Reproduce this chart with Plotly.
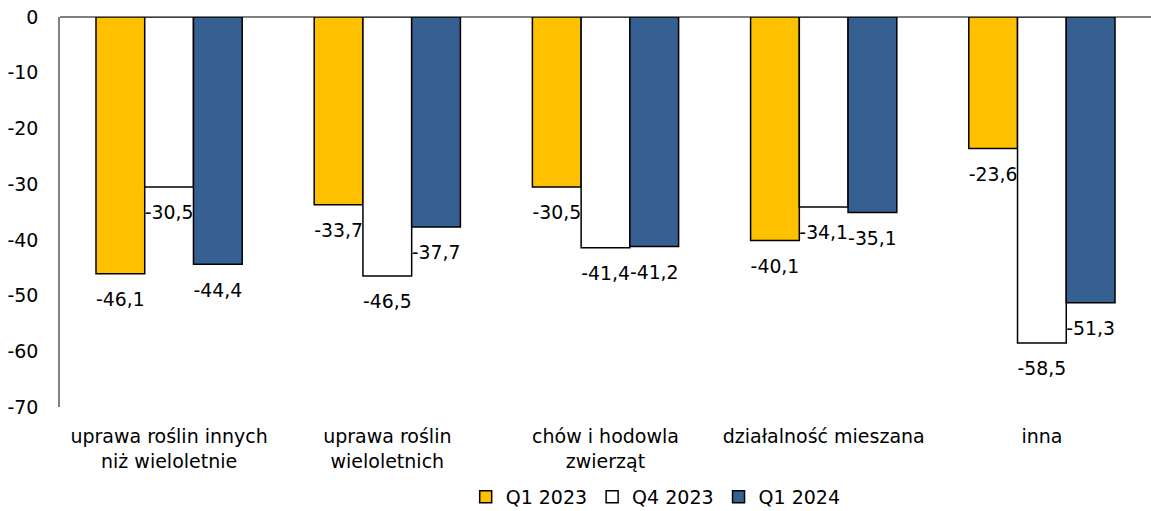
import plotly.graph_objects as go

categories = [
    "uprawa roślin innych<br>niż wieloletnie",
    "uprawa roślin<br>wieloletnich",
    "chów i hodowla<br>zwierząt",
    "działalność mieszana",
    "inna",
]
q1_2023 = [-46.1, -33.7, -30.5, -40.1, -23.6]
q4_2023 = [-30.5, -46.5, -41.4, -34.1, -58.5]
q1_2024 = [-44.4, -37.7, -41.2, -35.1, -51.3]

y_ticks = [0, -10, -20, -30, -40, -50, -60, -70]
y_tick_labels = ["0", "-10", "-20", "-30", "-40", "-50", "-60", "-70"]

series = [
    ("Q1 2023", q1_2023, "#FFC000"),
    ("Q4 2023", q4_2023, "#FFFFFF"),
    ("Q1 2024", q1_2024, "#366092"),
]

FONT = "DejaVu Sans"
SIZE = 19

fig = go.Figure()
for name, values, color in series:
    fig.add_trace(go.Bar(
        x=categories,
        y=values,
        name=name,
        marker=dict(color=color, line=dict(color="#000000", width=1.5)),
        # empty first line pushes the label further below the bar end, like Excel
        text=[f"{v:.1f}".replace(".", ",") for v in values],
        texttemplate="<span style='font-size:5px'> </span><br>%{text}",
        textposition="outside",
        textfont=dict(family=FONT, size=SIZE, color="#000000"),
        cliponaxis=False,
    ))

fig.update_layout(
    width=1151,
    height=511,
    margin=dict(l=60, r=0, t=17, b=104, autoexpand=False),
    plot_bgcolor="white",
    paper_bgcolor="white",
    barmode="group",
    bargap=0.33,
    bargroupgap=0,
    font=dict(family=FONT, size=SIZE, color="#000000"),
    showlegend=True,
    legend=dict(
        orientation="h",
        x=0.546,
        xanchor="center",
        y=-0.182,
        yanchor="top",
        font=dict(family=FONT, size=SIZE),
        itemwidth=30,
        traceorder="normal",
    ),
)
fig.update_xaxes(
    showline=False,
    showgrid=False,
    ticks="",
    ticklabelstandoff=16,
    automargin=False,
)
fig.update_yaxes(
    range=[-70, 0],
    tickvals=y_ticks,
    ticktext=y_tick_labels,
    showgrid=False,
    showline=True,
    linecolor="#808080",
    linewidth=1.5,
    zeroline=True,
    zerolinecolor="#808080",
    zerolinewidth=1.5,
    ticks="",
    ticklabelstandoff=16,
    ticklabeloverflow="allow",
    automargin=False,
)

# drop the default 8px body margin so the figure fills the window exactly
fig.write_html(
    "out.html",
    config={"displayModeBar": False},
    post_script="document.body.style.margin='0';document.body.style.overflow='hidden';",
)
